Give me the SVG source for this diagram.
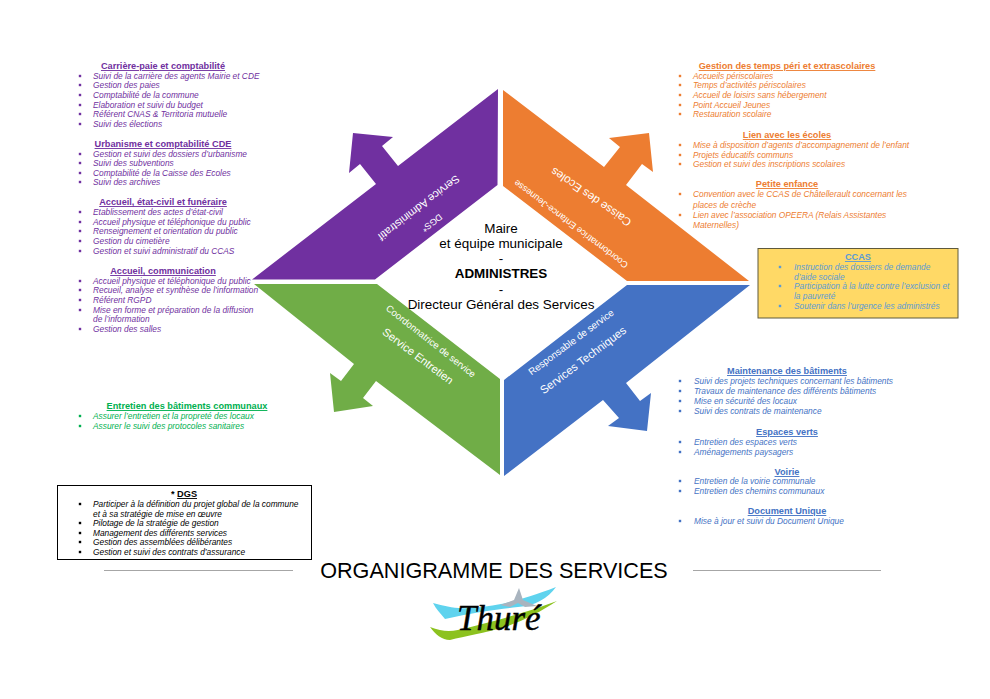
<svg xmlns="http://www.w3.org/2000/svg" xmlns:xlink="http://www.w3.org/1999/xlink" width="990" height="699" viewBox="0 0 990 699">
<style>
text{font-family:"Liberation Sans",Arial,sans-serif}
.i{font-size:8.35px;font-style:italic}
.h{font-size:9.2px;font-weight:bold;text-anchor:middle}
.u{text-decoration:underline;text-decoration-thickness:1.5px}
.w{fill:#fff;text-anchor:middle;dominant-baseline:central}
.c{font-size:13.45px;text-anchor:middle;fill:#000}
.p{fill:#7030A0}.o{fill:#ED7D31}.g{fill:#00B050}.b{fill:#4472C4}.l{fill:#5B9BD5}.k{fill:#000}
.ln{stroke:#a6a6a6;stroke-width:1}
</style>
<defs><rect id="s" x="-1.2" y="-1.2" width="2.4" height="2.4"/></defs>
<rect width="990" height="699" fill="#fff"/>
<g id="connectors"/>
<g id="service-administratif">
<polygon fill="#7030A0" points="498,89 497.5,185 375,279.5 252,279.5 376,184 360,164 349,173 353,133 393,137 382,146 398,166"/>
<text class="w" font-size="11" transform="translate(419,208) rotate(142.5)">Service Administratif</text>
<text class="w" font-size="9" transform="translate(432,223) rotate(142.5)">DGS*</text>
</g>
<g id="caisse-des-ecoles">
<polygon fill="#ED7D31" points="503,90 503,186 627,281 749,281 626,185 642,164 653,172 649,133 609,138 620,147 604,167"/>
<text class="w" font-size="11.5" transform="translate(591,197) rotate(214.5)">Caisse des Ecoles</text>
<text class="w" font-size="9.1" transform="translate(571,224) rotate(217)">Coordonnatrice Enfance-Jeunesse</text>
</g>
<g id="service-entretien">
<polygon fill="#70AD47" points="254,284 377,284 500,379 500,475 376,381 363,398 373,406 334,412 330,373 341,381 354,364"/>
<text class="w" font-size="9.5" transform="translate(431,341) rotate(38)">Coordonnatrice de service</text>
<text class="w" font-size="11.2" transform="translate(418,356) rotate(37)">Service Entretien</text>
</g>
<g id="services-techniques">
<polygon fill="#4472C4" points="627,285 750,285 626,383 640,401 651,393 647,431 608,426 619,418 603,400 504,476 504,380"/>
<text class="w" font-size="9.7" transform="translate(571,342) rotate(-36.5)">Responsable de service</text>
<text class="w" font-size="11.4" transform="translate(583,360) rotate(-37)">Services Techniques</text>
</g>
<g id="centre">
<text class="c" x="501" y="233">Maire</text>
<text class="c" x="501" y="248">et équipe municipale</text>
<text class="c" x="501" y="263">-</text>
<text class="c" x="501" y="278" font-weight="bold">ADMINISTRES</text>
<text class="c" x="501" y="294">-</text>
<text class="c" x="501" y="309">Directeur Général des Services</text>
</g>
<g id="carriere" class="p">
<text class="h u p" x="163" y="69">Carrière-paie et comptabilité</text>
<use href="#s" x="80" y="76"/><text class="i" x="93" y="79">Suivi de la carrière des agents Mairie et CDE</text>
<use href="#s" x="80" y="85"/><text class="i" x="93" y="88">Gestion des paies</text>
<use href="#s" x="80" y="95"/><text class="i" x="93" y="98">Comptabilité de la commune</text>
<use href="#s" x="80" y="105"/><text class="i" x="93" y="108">Elaboration et suivi du budget</text>
<use href="#s" x="80" y="114"/><text class="i" x="93" y="117">Référent CNAS &amp; Territoria mutuelle</text>
<use href="#s" x="80" y="124"/><text class="i" x="93" y="127">Suivi des élections</text>
</g>
<g id="urbanisme" class="p">
<text class="h u p" x="163" y="147">Urbanisme et comptabilité CDE</text>
<use href="#s" x="80" y="154"/><text class="i" x="93" y="157">Gestion et suivi des dossiers d’urbanisme</text>
<use href="#s" x="80" y="163"/><text class="i" x="93" y="166">Suivi des subventions</text>
<use href="#s" x="80" y="173"/><text class="i" x="93" y="176">Comptabilité de la Caisse des Ecoles</text>
<use href="#s" x="80" y="182"/><text class="i" x="93" y="185">Suivi des archives</text>
</g>
<g id="accueil-etat-civil" class="p">
<text class="h u p" x="163" y="205">Accueil, état-civil et funéraire</text>
<use href="#s" x="80" y="212"/><text class="i" x="93" y="215">Etablissement des actes d’état-civil</text>
<use href="#s" x="80" y="222"/><text class="i" x="93" y="225">Accueil physique et téléphonique du public</text>
<use href="#s" x="80" y="231"/><text class="i" x="93" y="234">Renseignement et orientation du public</text>
<use href="#s" x="80" y="241"/><text class="i" x="93" y="244">Gestion du cimetière</text>
<use href="#s" x="80" y="251"/><text class="i" x="93" y="254">Gestion et suivi administratif du CCAS</text>
</g>
<g id="accueil-communication" class="p">
<text class="h u p" x="163" y="274">Accueil, communication</text>
<use href="#s" x="80" y="281"/><text class="i" x="93" y="284">Accueil physique et téléphonique du public</text>
<use href="#s" x="80" y="290"/><text class="i" x="93" y="293">Recueil, analyse et synthèse de l’information</text>
<use href="#s" x="80" y="300"/><text class="i" x="93" y="303">Référent RGPD</text>
<use href="#s" x="80" y="310"/><text class="i" x="93" y="313">Mise en forme et préparation de la diffusion</text>
<text class="i" x="93" y="322">de l’information</text>
<use href="#s" x="80" y="329"/><text class="i" x="93" y="332">Gestion des salles</text>
</g>
<g id="temps-peri" class="o">
<text class="h u o" x="787" y="69">Gestion des temps péri et extrascolaires</text>
<use href="#s" x="680" y="76"/><text class="i" x="693" y="79">Accueils périscolaires</text>
<use href="#s" x="680" y="85"/><text class="i" x="693" y="88">Temps d’activités périscolaires</text>
<use href="#s" x="680" y="95"/><text class="i" x="693" y="98">Accueil de loisirs sans hébergement</text>
<use href="#s" x="680" y="105"/><text class="i" x="693" y="108">Point Accueil Jeunes</text>
<use href="#s" x="680" y="114"/><text class="i" x="693" y="117">Restauration scolaire</text>
</g>
<g id="lien-ecoles" class="o">
<text class="h u o" x="787" y="138">Lien avec les écoles</text>
<use href="#s" x="680" y="145"/><text class="i" x="693" y="148">Mise à disposition d’agents d’accompagnement de l’enfant</text>
<use href="#s" x="680" y="155"/><text class="i" x="693" y="158">Projets éducatifs communs</text>
<use href="#s" x="680" y="164"/><text class="i" x="693" y="167">Gestion et suivi des inscriptions scolaires</text>
</g>
<g id="petite-enfance" class="o">
<text class="h u o" x="787" y="187">Petite enfance</text>
<use href="#s" x="680" y="194"/><text class="i" x="693" y="197">Convention avec le CCAS de Châtellerault concernant les</text>
<text class="i" x="693" y="208">places de crèche</text>
<use href="#s" x="680" y="215"/><text class="i" x="693" y="218">Lien avec l’association OPEERA (Relais Assistantes</text>
<text class="i" x="693" y="228">Maternelles)</text>
</g>
<g id="ccas" class="l">
<rect x="758" y="248.5" width="200" height="69.5" fill="#FFD966" stroke="#5f5a3c" stroke-width="1"/>
<text class="h u l" x="858" y="260">CCAS</text>
<use href="#s" x="780" y="267"/><text class="i" x="794" y="270">Instruction des dossiers de demande</text>
<text class="i" x="794" y="280">d’aide sociale</text>
<use href="#s" x="780" y="286"/><text class="i" x="794" y="289">Participation à la lutte contre l’exclusion et</text>
<text class="i" x="794" y="299">la pauvreté</text>
<use href="#s" x="780" y="306"/><text class="i" x="794" y="309">Soutenir dans l’urgence les administrés</text>
</g>
<g id="maintenance" class="b">
<text class="h u b" x="787" y="374">Maintenance des bâtiments</text>
<use href="#s" x="680" y="381"/><text class="i" x="694" y="384">Suivi des projets techniques concernant les bâtiments</text>
<use href="#s" x="680" y="391"/><text class="i" x="694" y="394">Travaux de maintenance des différents bâtiments</text>
<use href="#s" x="680" y="401"/><text class="i" x="694" y="404">Mise en sécurité des locaux</text>
<use href="#s" x="680" y="411"/><text class="i" x="694" y="414">Suivi des contrats de maintenance</text>
</g>
<g id="espaces-verts" class="b">
<text class="h u b" x="787" y="435">Espaces verts</text>
<use href="#s" x="680" y="442"/><text class="i" x="694" y="445">Entretien des espaces verts</text>
<use href="#s" x="680" y="452"/><text class="i" x="694" y="455">Aménagements paysagers</text>
</g>
<g id="voirie" class="b">
<text class="h u b" x="787" y="475">Voirie</text>
<use href="#s" x="680" y="481"/><text class="i" x="694" y="484">Entretien de la voirie communale</text>
<use href="#s" x="680" y="491"/><text class="i" x="694" y="494">Entretien des chemins communaux</text>
</g>
<g id="document-unique" class="b">
<text class="h u b" x="787" y="514">Document Unique</text>
<use href="#s" x="680" y="521"/><text class="i" x="694" y="524">Mise à jour et suivi du Document Unique</text>
</g>
<g id="entretien-batiments" class="g">
<text class="h u g" x="187" y="409">Entretien des bâtiments communaux</text>
<use href="#s" x="80" y="416"/><text class="i" x="93" y="419">Assurer l’entretien et la propreté des locaux</text>
<use href="#s" x="80" y="426"/><text class="i" x="93" y="429">Assurer le suivi des protocoles sanitaires</text>
</g>
<g id="dgs" class="k">
<rect x="57.5" y="485.5" width="254" height="74" fill="#fff" stroke="#000" stroke-width="1"/>
<text class="h k" x="184" y="497">* <tspan class="u">DGS</tspan></text>
<use href="#s" x="80" y="504"/><text class="i" x="93" y="507">Participer à la définition du projet global de la commune</text>
<text class="i" x="93" y="517">et à sa stratégie de mise en œuvre</text>
<use href="#s" x="80" y="523"/><text class="i" x="93" y="526">Pilotage de la stratégie de gestion</text>
<use href="#s" x="80" y="533"/><text class="i" x="93" y="536">Management des différents services</text>
<use href="#s" x="80" y="542"/><text class="i" x="93" y="545">Gestion des assemblées délibérantes</text>
<use href="#s" x="80" y="552"/><text class="i" x="93" y="555">Gestion et suivi des contrats d’assurance</text>
</g>
<g id="titre">
<line class="ln" x1="104" y1="570.5" x2="293" y2="570.5"/>
<line class="ln" x1="693" y1="570.5" x2="881" y2="570.5"/>
<text x="494" y="578" font-size="21.6" text-anchor="middle" fill="#000">ORGANIGRAMME DES SERVICES</text>
</g>
<g id="logo">
<path fill="#5FD3EE" d="M433,603 C445,606 455,609 467,608 C490,607 515,603 556,587 C548,598 535,606 518,607 C500,609 475,612 445,619 C440,613 436,609 433,603Z"/>
<path fill="#8CC21F" d="M430,627 C445,633 455,631 467,628 C495,621 525,613 557,601 C540,612 525,620 505,627 C485,633 465,636 450,640 C442,640 435,634 430,627Z"/>
<path fill="#A9B4BF" d="M500,605 L514,600 L519,588 L523,600 L537,606 L525,607 L518,603 L510,607Z"/>
<text x="457" y="630" font-size="35" font-style="italic" stroke="#000" stroke-width=".4" style="font-family:'Liberation Serif',serif" fill="#000">Thuré</text>
</g>
</svg>
